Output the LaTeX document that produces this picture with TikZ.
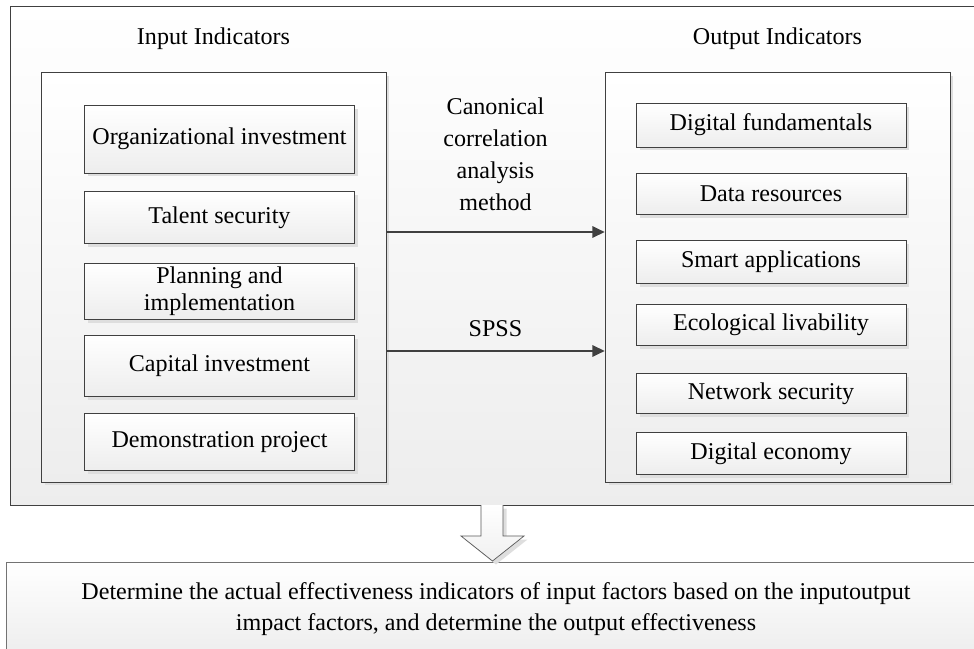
\documentclass[tikz,border=0pt]{standalone}
\usepackage{fontspec}
\setmainfont{Liberation Serif}
\usetikzlibrary{positioning,shadows,arrows.meta}

\begin{document}
\begin{tikzpicture}[x=0.02cm, y=-0.02cm,
		every node/.style={font=\fontsize{13.7}{17}\selectfont},
		frame/.style={
			draw=black!75,
			top color=white,
			bottom color=black!7},
		shade/.style={
			drop shadow={shadow xshift=0.07cm, shadow yshift=-0.07cm,
				fill=black!13, opacity=1}},
		group/.style={
			frame, shade,
			minimum width=6.9cm,
			minimum height=8.2cm},
		item/.style={
			frame, shade,
			align=center,
			inner sep=2pt,
			minimum width=5.4cm},
		link/.style={
			draw=black!75,
			line width=1.1pt,
			-{Triangle[length=7pt, width=6.5pt]}},
		hollow/.style={
			draw=black!65,
			top color=white,
			bottom color=black!6,
			shade}]

		\useasboundingbox (0,0) rectangle (974,649);
		\clip (0,0) rectangle (974,649);

		% outer frame and the result box below it
		\node (outer) [frame, minimum width=19.6cm, minimum height=9.98cm] at (500,255.5) {};
		\node (result) [frame, draw=black!55, minimum width=19.6cm, minimum height=1.88cm, align=center,
			font=\fontsize{13.7}{17.2}\selectfont] at (496,609)
			{Determine the actual effectiveness indicators of input factors based on the inputoutput\\
			impact factors, and determine the output effectiveness};

		% input side
		\node (inputs) [group] at (213.5,277) {};
		\node (inTitle) [above=0.32cm of inputs] {Input Indicators};
		\node (orgInv) [item, minimum height=1.36cm] at (219.5,139) {Organizational investment};
		\node (talent) [item, minimum height=1.04cm, below=0.36cm of orgInv] {Talent security};
		\node (planning) [item, minimum height=1.12cm, below=0.38cm of talent,
			font=\fontsize{13.7}{15}\selectfont] {Planning and\\implementation};
		\node (capital) [item, minimum height=1.22cm, below=0.3cm of planning] {Capital investment};
		\node (demo) [item, minimum height=1.14cm, below=0.34cm of capital] {Demonstration project};

		% output side
		\node (outputs) [group] at (777.5,277) {};
		\node (outTitle) [above=0.32cm of outputs] {Output Indicators};
		\node (digFund) [item, minimum height=0.88cm] at (771,125) {Digital fundamentals};
		\node (dataRes) [item, minimum height=0.82cm, below=0.52cm of digFund] {Data resources};
		\node (smartApp) [item, minimum height=0.86cm, below=0.5cm of dataRes] {Smart applications};
		\node (ecoLiv) [item, minimum height=0.82cm, below=0.4cm of smartApp] {Ecological livability};
		\node (netSec) [item, minimum height=0.8cm, below=0.56cm of ecoLiv] {Network security};
		\node (digEcon) [item, minimum height=0.84cm, below=0.36cm of netSec] {Digital economy};

		% methods between the two groups
		\draw [link] ([yshift=0.9cm]inputs.east) -- ([yshift=0.9cm]outputs.west)
			node [midway, above=8pt, align=center, font=\fontsize{13.7}{18.2}\selectfont]
			{Canonical\\correlation\\analysis\\method};
		\draw [link] ([yshift=-1.48cm]inputs.east) -- ([yshift=-1.48cm]outputs.west)
			node [midway, above=4pt] {SPSS};

		% hollow arrow down to the result
		\path [hollow] (481,505) -- (481,536) -- (461,536) -- (492.5,561)
			-- (524,536) -- (503,536) -- (503,505);
	\end{tikzpicture}
\end{document}
